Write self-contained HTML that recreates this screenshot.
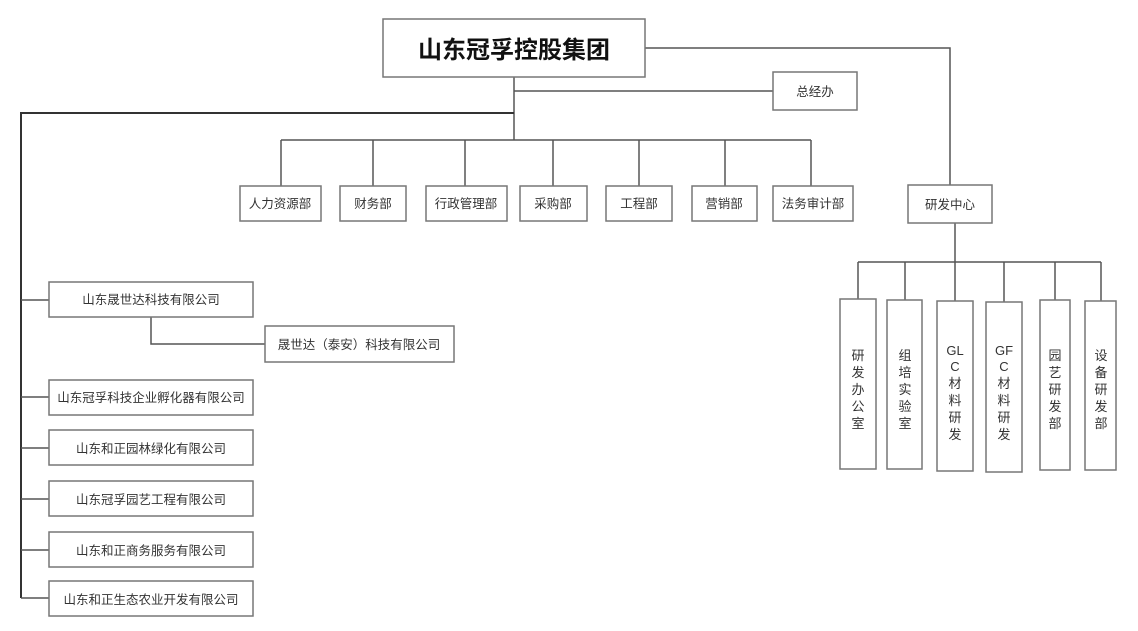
<!DOCTYPE html>
<html><head><meta charset="utf-8"><style>
html,body{margin:0;padding:0;background:#fff;}
svg{display:block;}
text{font-family:"Liberation Sans","Noto Sans CJK SC",sans-serif;fill:#333;}
</style></head><body>
<svg width="1138" height="631" viewBox="0 0 1138 631" xmlns="http://www.w3.org/2000/svg">
<g stroke="#555" stroke-width="1.5" fill="none">
<!-- top main lines -->
<polyline points="645,48 950,48 950,185"/>
<line x1="514" y1="77" x2="514" y2="140"/>
<line x1="514" y1="91" x2="773" y2="91"/>
<polyline points="514,113 21,113 21,598" stroke="#333" stroke-width="2"/>
<line x1="281" y1="140" x2="811" y2="140"/>
<line x1="281" y1="140" x2="281" y2="186"/>
<line x1="373" y1="140" x2="373" y2="186"/>
<line x1="465" y1="140" x2="465" y2="186"/>
<line x1="553" y1="140" x2="553" y2="186"/>
<line x1="639" y1="140" x2="639" y2="186"/>
<line x1="725" y1="140" x2="725" y2="186"/>
<line x1="811" y1="140" x2="811" y2="186"/>
<!-- R&D -->
<line x1="955" y1="223" x2="955" y2="262"/>
<line x1="858" y1="262" x2="1101" y2="262"/>
<line x1="858" y1="262" x2="858" y2="299"/>
<line x1="905" y1="262" x2="905" y2="300"/>
<line x1="955" y1="262" x2="955" y2="301"/>
<line x1="1004" y1="262" x2="1004" y2="302"/>
<line x1="1055" y1="262" x2="1055" y2="300"/>
<line x1="1101" y1="262" x2="1101" y2="301"/>
<!-- left subsidiaries -->
<line x1="21" y1="300" x2="49" y2="300"/>
<polyline points="151,317 151,344 265,344"/>
<line x1="21" y1="397" x2="49" y2="397"/>
<line x1="21" y1="448" x2="49" y2="448"/>
<line x1="21" y1="499" x2="49" y2="499"/>
<line x1="21" y1="550" x2="49" y2="550"/>
<line x1="21" y1="598" x2="49" y2="598"/>
</g>
<g stroke="#777" stroke-width="1.5" fill="#fff">
<rect x="383" y="19" width="262" height="58"/>
<rect x="773" y="72" width="84" height="38"/>
<rect x="240" y="186" width="81" height="35"/>
<rect x="340" y="186" width="66" height="35"/>
<rect x="426" y="186" width="81" height="35"/>
<rect x="520" y="186" width="67" height="35"/>
<rect x="606" y="186" width="66" height="35"/>
<rect x="692" y="186" width="65" height="35"/>
<rect x="773" y="186" width="80" height="35"/>
<rect x="908" y="185" width="84" height="38"/>
<rect x="840" y="299" width="36" height="170"/>
<rect x="887" y="300" width="35" height="169"/>
<rect x="937" y="301" width="36" height="170"/>
<rect x="986" y="302" width="36" height="170"/>
<rect x="1040" y="300" width="30" height="170"/>
<rect x="1085" y="301" width="31" height="169"/>
<rect x="49" y="282" width="204" height="35"/>
<rect x="265" y="326" width="189" height="36"/>
<rect x="49" y="380" width="204" height="35"/>
<rect x="49" y="430" width="204" height="35"/>
<rect x="49" y="481" width="204" height="35"/>
<rect x="49" y="532" width="204" height="35"/>
<rect x="49" y="581" width="204" height="35"/>
</g>
<g text-anchor="middle" font-size="12.5">
<text x="514" y="58" font-size="24" font-weight="bold" fill="#111" style="fill:#111">山东冠孚控股集团</text>
<text x="815" y="96">总经办</text>
<text x="280" y="208">人力资源部</text>
<text x="373" y="208">财务部</text>
<text x="466" y="208">行政管理部</text>
<text x="553" y="208">采购部</text>
<text x="639" y="208">工程部</text>
<text x="724" y="208">营销部</text>
<text x="813" y="208">法务审计部</text>
<text x="950" y="209">研发中心</text>
<text x="151" y="304">山东晟世达科技有限公司</text>
<text x="359" y="349">晟世达（泰安）科技有限公司</text>
<text x="151" y="402">山东冠孚科技企业孵化器有限公司</text>
<text x="151" y="453">山东和正园林绿化有限公司</text>
<text x="151" y="504">山东冠孚园艺工程有限公司</text>
<text x="151" y="555">山东和正商务服务有限公司</text>
<text x="151" y="604">山东和正生态农业开发有限公司</text>
</g>
<g text-anchor="middle" font-size="13">
<text x="858" y="360">研</text><text x="858" y="377">发</text><text x="858" y="394">办</text><text x="858" y="411">公</text><text x="858" y="428">室</text>
<text x="905" y="360">组</text><text x="905" y="377">培</text><text x="905" y="394">实</text><text x="905" y="411">验</text><text x="905" y="428">室</text>
<text x="955" y="355">GL</text><text x="955" y="371">C</text><text x="955" y="388">材</text><text x="955" y="405">料</text><text x="955" y="422">研</text><text x="955" y="439">发</text>
<text x="1004" y="355">GF</text><text x="1004" y="371">C</text><text x="1004" y="388">材</text><text x="1004" y="405">料</text><text x="1004" y="422">研</text><text x="1004" y="439">发</text>
<text x="1055" y="360">园</text><text x="1055" y="377">艺</text><text x="1055" y="394">研</text><text x="1055" y="411">发</text><text x="1055" y="428">部</text>
<text x="1101" y="360">设</text><text x="1101" y="377">备</text><text x="1101" y="394">研</text><text x="1101" y="411">发</text><text x="1101" y="428">部</text>
</g>
</svg>
</body></html>
